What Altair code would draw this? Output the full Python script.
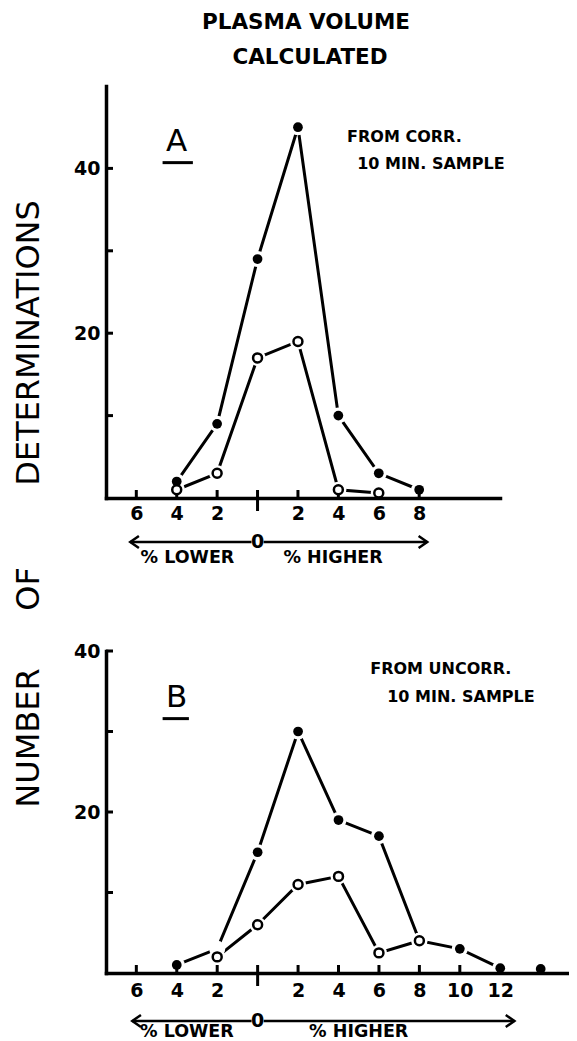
import altair as alt
import pandas as pd

FONT = "DejaVu Sans"

# ---------------- data ----------------
A_FILLED_X = [-4, -2, 0, 2, 4, 6, 8]
A_FILLED_Y = [2, 9, 29, 45, 10, 3, 1]
A_OPEN_X = [-4, -2, 0, 2, 4, 6]
A_OPEN_Y = [1, 3, 17, 19, 1, 0.6]

B_FILLED_X = [-4, -2, 0, 2, 4, 6, 8, 10, 12]
B_FILLED_Y = [1, 3, 15, 30, 19, 17, 4, 3, 0.6]
B_FILLED_UNMARKED = [-2]
B_STRAY_X = [14]
B_STRAY_Y = [0.5]
B_OPEN_X = [-2, 0, 2, 4, 6, 8]
B_OPEN_Y = [2, 6, 11, 12, 2.5, 4]

A_XTICKS = [-6, -4, -2, 0, 2, 4, 6, 8]
B_XTICKS = [-6, -4, -2, 0, 2, 4, 6, 8, 10, 12]
Y_TICKS = [10, 20, 30, 40]
Y_LABELS = [20, 40]

TITLE_LINES = ["PLASMA VOLUME", "CALCULATED"]
YLABEL_WORDS = ["DETERMINATIONS", "OF", "NUMBER"]
A_NOTE = ["FROM CORR.", "10 MIN. SAMPLE"]
B_NOTE = ["FROM UNCORR.", "10 MIN. SAMPLE"]
LOWER_TXT = "% LOWER"
HIGHER_TXT = "% HIGHER"


def panel(cfg):
    W, H = cfg["W"], cfg["H"]
    X = alt.X("x:Q", scale=alt.Scale(domain=cfg["xdom"], nice=False, zero=False),
              axis=alt.Axis(values=cfg["xticks"], title=None, ticks=False, tickSize=0,
                            labelExpr="datum.value == 0 ? '' : '' + abs(datum.value)",
                            labelPadding=cfg["xlabpad"], labelFlush=False,
                            labelOverlap=False, zindex=1))
    Y = alt.Y("y:Q", scale=alt.Scale(domain=cfg["ydom"], nice=False, zero=True),
              axis=alt.Axis(values=Y_LABELS, title=None, ticks=False, tickSize=0,
                            labelPadding=6, labelOverlap=False, zindex=1))

    lines = pd.DataFrame(
        [{"x": x, "y": y, "s": "filled"} for x, y in zip(cfg["fx"], cfg["fy"])]
        + [{"x": x, "y": y, "s": "open"} for x, y in zip(cfg["ox"], cfg["oy"])]
    )
    filled_pts = pd.DataFrame(
        [{"x": x, "y": y} for x, y in zip(cfg["fx"], cfg["fy"]) if x not in cfg["unmarked"]]
        + [{"x": x, "y": y} for x, y in zip(cfg["sx"], cfg["sy"])]
    )
    open_pts = pd.DataFrame({"x": cfg["ox"], "y": cfg["oy"]})
    halo = pd.concat([lines, pd.DataFrame({"x": cfg["sx"], "y": cfg["sy"]})])

    layers = []
    layers.append(alt.Chart(lines).mark_line(color="black", strokeWidth=3)
                  .encode(x=X, y=Y, detail="s:N", order="x:Q"))
    layers.append(alt.Chart(halo).mark_circle(color="white", opacity=1, size=260)
                  .encode(x=X, y=Y))

    # x ticks (pointing up into the plot); zero tick crosses the axis
    xt = pd.DataFrame({"x": cfg["xticks"]})
    layers.append(alt.Chart(xt).transform_filter("datum.x != 0")
                  .mark_rule(color="black", strokeWidth=3)
                  .encode(x=X, y=alt.value(H - 8), y2=alt.value(H)))
    layers.append(alt.Chart(xt).transform_filter("datum.x == 0")
                  .mark_rule(color="black", strokeWidth=3)
                  .encode(x=X, y=alt.value(H - 8), y2=alt.value(H + 13)))
    # y ticks (pointing right)
    yt = pd.DataFrame({"y": Y_TICKS})
    layers.append(alt.Chart(yt).mark_rule(color="black", strokeWidth=3)
                  .encode(y=Y, x=alt.value(0), x2=alt.value(7)))

    layers.append(alt.Chart(filled_pts).mark_circle(color="black", opacity=1, size=95)
                  .encode(x=X, y=Y))
    layers.append(alt.Chart(open_pts).mark_point(shape="circle", filled=True, fill="white",
                                                   stroke="black", strokeWidth=2.5,
                                                   opacity=1, size=80)
                  .encode(x=X, y=Y))

    # panel letter with underline
    let = pd.DataFrame([{"x": cfg["letter"][0], "y": cfg["letter"][1], "t": cfg["letter"][2]}])
    layers.append(alt.Chart(let).mark_text(font=FONT, fontSize=31, color="black",
                                           baseline="middle", align="center")
                  .encode(x=X, y=Y, text="t:N"))
    ul = pd.DataFrame([{"x": cfg["uline"][0], "x2": cfg["uline"][1], "y": cfg["uline"][2]}])
    layers.append(alt.Chart(ul).mark_rule(color="black", strokeWidth=3)
                  .encode(x=X, x2="x2:Q", y=Y))

    # note text
    note = pd.DataFrame([{"x": n[0], "y": n[1], "t": n[2]} for n in cfg["note"]])
    layers.append(alt.Chart(note).mark_text(font=FONT, fontSize=16, fontWeight="bold",
                                            color="black", align="left", baseline="middle")
                  .encode(x=X, y=Y, text="t:N"))

    # arrows under the x axis
    ay = H + cfg["arrow_dy"]
    seg = pd.DataFrame([{"x": cfg["arrow"][0], "x2": -0.3}, {"x": 0.3, "x2": cfg["arrow"][1]}])
    layers.append(alt.Chart(seg).mark_rule(color="black", strokeWidth=2.5)
                  .encode(x=X, x2="x2:Q", y=alt.value(ay)))
    layers.append(alt.Chart(pd.DataFrame({"x": [cfg["arrow"][0]]}))
                  .mark_point(shape="M 1 -0.7 L 0 0 L 1 0.7", filled=False, stroke="black",
                              strokeWidth=2.5, size=300, opacity=1)
                  .encode(x=X, y=alt.value(ay)))
    layers.append(alt.Chart(pd.DataFrame({"x": [cfg["arrow"][1]]}))
                  .mark_point(shape="M -1 -0.7 L 0 0 L -1 0.7", filled=False, stroke="black",
                              strokeWidth=2.5, size=300, opacity=1)
                  .encode(x=X, y=alt.value(ay)))
    zero = pd.DataFrame([{"x": 0, "t": "0"}])
    layers.append(alt.Chart(zero).mark_text(font=FONT, fontSize=19, fontWeight="bold",
                                            color="black", baseline="middle", align="center")
                  .encode(x=X, y=alt.value(ay), text="t:N"))
    lh = pd.DataFrame([{"x": cfg["lower_x"], "t": LOWER_TXT}, {"x": cfg["higher_x"], "t": HIGHER_TXT}])
    layers.append(alt.Chart(lh).mark_text(font=FONT, fontSize=17.5, fontWeight="bold",
                                          color="black", baseline="middle", align="center")
                  .encode(x=X, y=alt.value(H + cfg["lh_dy"]), text="t:N"))

    # free text in pixel space (title, y label words)
    for (t, px, py, size, weight, angle) in cfg["free"]:
        layers.append(alt.Chart(pd.DataFrame([{"t": t}]))
                      .mark_text(font=FONT, fontSize=size, fontWeight=weight, color="black",
                                 angle=angle, align="center", baseline="middle")
                      .encode(x=alt.value(px), y=alt.value(py), text="t:N"))

    return alt.layer(*layers).properties(width=W, height=H)


PX_PER_UNIT = 20.2
A_cfg = dict(
    W=round(19.5 * PX_PER_UNIT), H=412, xdom=[-7.5, 12], ydom=[0, 50],
    xticks=A_XTICKS, xlabpad=6,
    fx=A_FILLED_X, fy=A_FILLED_Y, ox=A_OPEN_X, oy=A_OPEN_Y,
    unmarked=[], sx=[], sy=[],
    letter=(-4.0, 43.2, "A"), uline=(-4.7, -3.2, 40.7),
    note=[(4.43, 43.8, A_NOTE[0]), (4.93, 40.5, A_NOTE[1])],
    arrow=(-6.3, 8.4), arrow_dy=44, lower_x=-3.47, higher_x=3.74, lh_dy=60,
    free=[(TITLE_LINES[0], 200, -63, 21.5, "bold", 0),
          (TITLE_LINES[1], 204, -28, 21.5, "bold", 0),
          (YLABEL_WORDS[0], -77, 257, 32, "normal", 270)],
)
B_cfg = dict(
    W=round(22.9 * PX_PER_UNIT), H=322, xdom=[-7.5, 15.4], ydom=[0, 40],
    xticks=B_XTICKS, xlabpad=8,
    fx=B_FILLED_X, fy=B_FILLED_Y, ox=B_OPEN_X, oy=B_OPEN_Y,
    unmarked=B_FILLED_UNMARKED, sx=B_STRAY_X, sy=B_STRAY_Y,
    letter=(-4.0, 34.1, "B"), uline=(-4.7, -3.4, 31.6),
    note=[(5.57, 37.8, B_NOTE[0]), (6.41, 34.3, B_NOTE[1])],
    arrow=(-6.2, 12.7), arrow_dy=48, lower_x=-3.5, higher_x=5.0, lh_dy=59,
    free=[(YLABEL_WORDS[1], -77, -62, 32, "normal", 270),
          (YLABEL_WORDS[2], -77, 87, 32, "normal", 270)],
)

chart = (
    alt.vconcat(panel(A_cfg), panel(B_cfg), spacing=153, bounds="flush")
    .properties(padding={"left": 5, "top": 4, "right": 0, "bottom": 0})
    .configure_view(stroke=None)
    .configure_axis(domainColor="black", domainWidth=3.5, domainCap="square", grid=False,
                    labelFont=FONT, labelFontSize=19, labelFontWeight="bold",
                    labelColor="black")
)

chart.save("out.html", embed_options={"renderer": "svg", "actions": False})
